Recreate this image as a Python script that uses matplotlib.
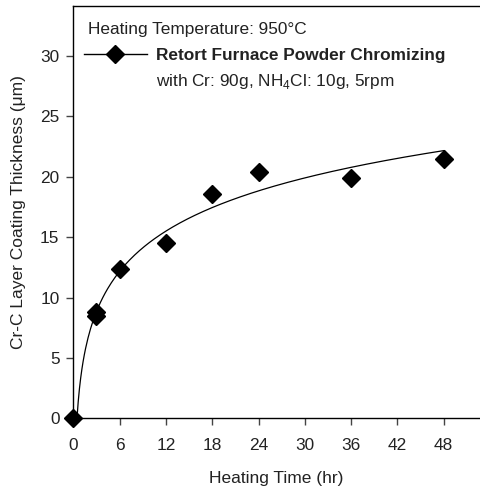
import numpy as np
import matplotlib.pyplot as plt

plt.rcParams['font.family'] = ['Liberation Sans', 'DejaVu Sans']
plt.rcParams['mathtext.fontset'] = 'custom'
plt.rcParams['mathtext.rm'] = 'Liberation Sans'

# data
hours = [0, 3, 3, 6, 12, 18, 24, 36, 48]
thickness = [0, 8.5, 8.8, 12.4, 14.5, 18.6, 20.4, 19.9, 21.5]
x_ticks = [0, 6, 12, 18, 24, 30, 36, 42, 48]
y_ticks = [0, 5, 10, 15, 20, 25, 30]

# log trend line fitted to the measured points (t > 0)
t = np.array(hours[1:], dtype=float)
y = np.array(thickness[1:])
slope, icpt = np.polyfit(np.log(t), y, 1)
t0 = np.exp(-icpt / slope)
tt = np.linspace(t0, 48, 300)
fit = icpt + slope * np.log(tt)

fs = 12.4
fig = plt.figure(figsize=(4.8, 4.91), dpi=100)
ax = fig.add_axes([73.3 / 480, 1 - 418.3 / 491, 1 - 73.3 / 480, 412.3 / 491])

ax.plot(tt, fit, color='black', lw=0.9)
ax.plot(hours, thickness, ls='none', marker='D', ms=9, color='black', clip_on=False, zorder=3)

ax.set_xlim(0, 52.7)
ax.set_ylim(0, 34.15)
ax.set_xticks(x_ticks)
ax.set_yticks(y_ticks)
ax.spines['right'].set_visible(False)
for s in ['left', 'bottom', 'top']:
    ax.spines[s].set_linewidth(1.0)
ax.tick_params(direction='out', length=5, width=1, color='#444444', labelsize=fs,
               labelcolor='#222222', pad=5)
ax.tick_params(axis='x', pad=9)

ax.set_xlabel('Heating Time (hr)', fontsize=12.5, color='#222222', labelpad=13)
ax.set_ylabel('Cr-C Layer Coating Thickness (\u03bcm)', fontsize=12.5, color='#222222', labelpad=10)

# legend with one entry, plus header and sub line
h, = ax.plot([], [], color='black', lw=1, marker='D', ms=9)
leg = ax.legend([h], ['Retort Furnace Powder Chromizing'], loc='center left',
                bbox_to_anchor=(0.026, 0.879), frameon=False, borderpad=0, borderaxespad=0,
                handlelength=3.66, handletextpad=0.52, prop={'weight': 'bold', 'size': fs})
for txt in leg.get_texts():
    txt.set_color('#222222')

ax.text(0.036, 0.944, 'Heating Temperature: 950\u00b0C', transform=ax.transAxes,
        fontsize=fs, color='#222222', va='center')
ax.text(0.203, 0.818, 'with Cr: 90g, NH$_4$Cl: 10g, 5rpm', transform=ax.transAxes,
        fontsize=fs, color='#222222', va='center')

fig.savefig('out.png', dpi=100)
